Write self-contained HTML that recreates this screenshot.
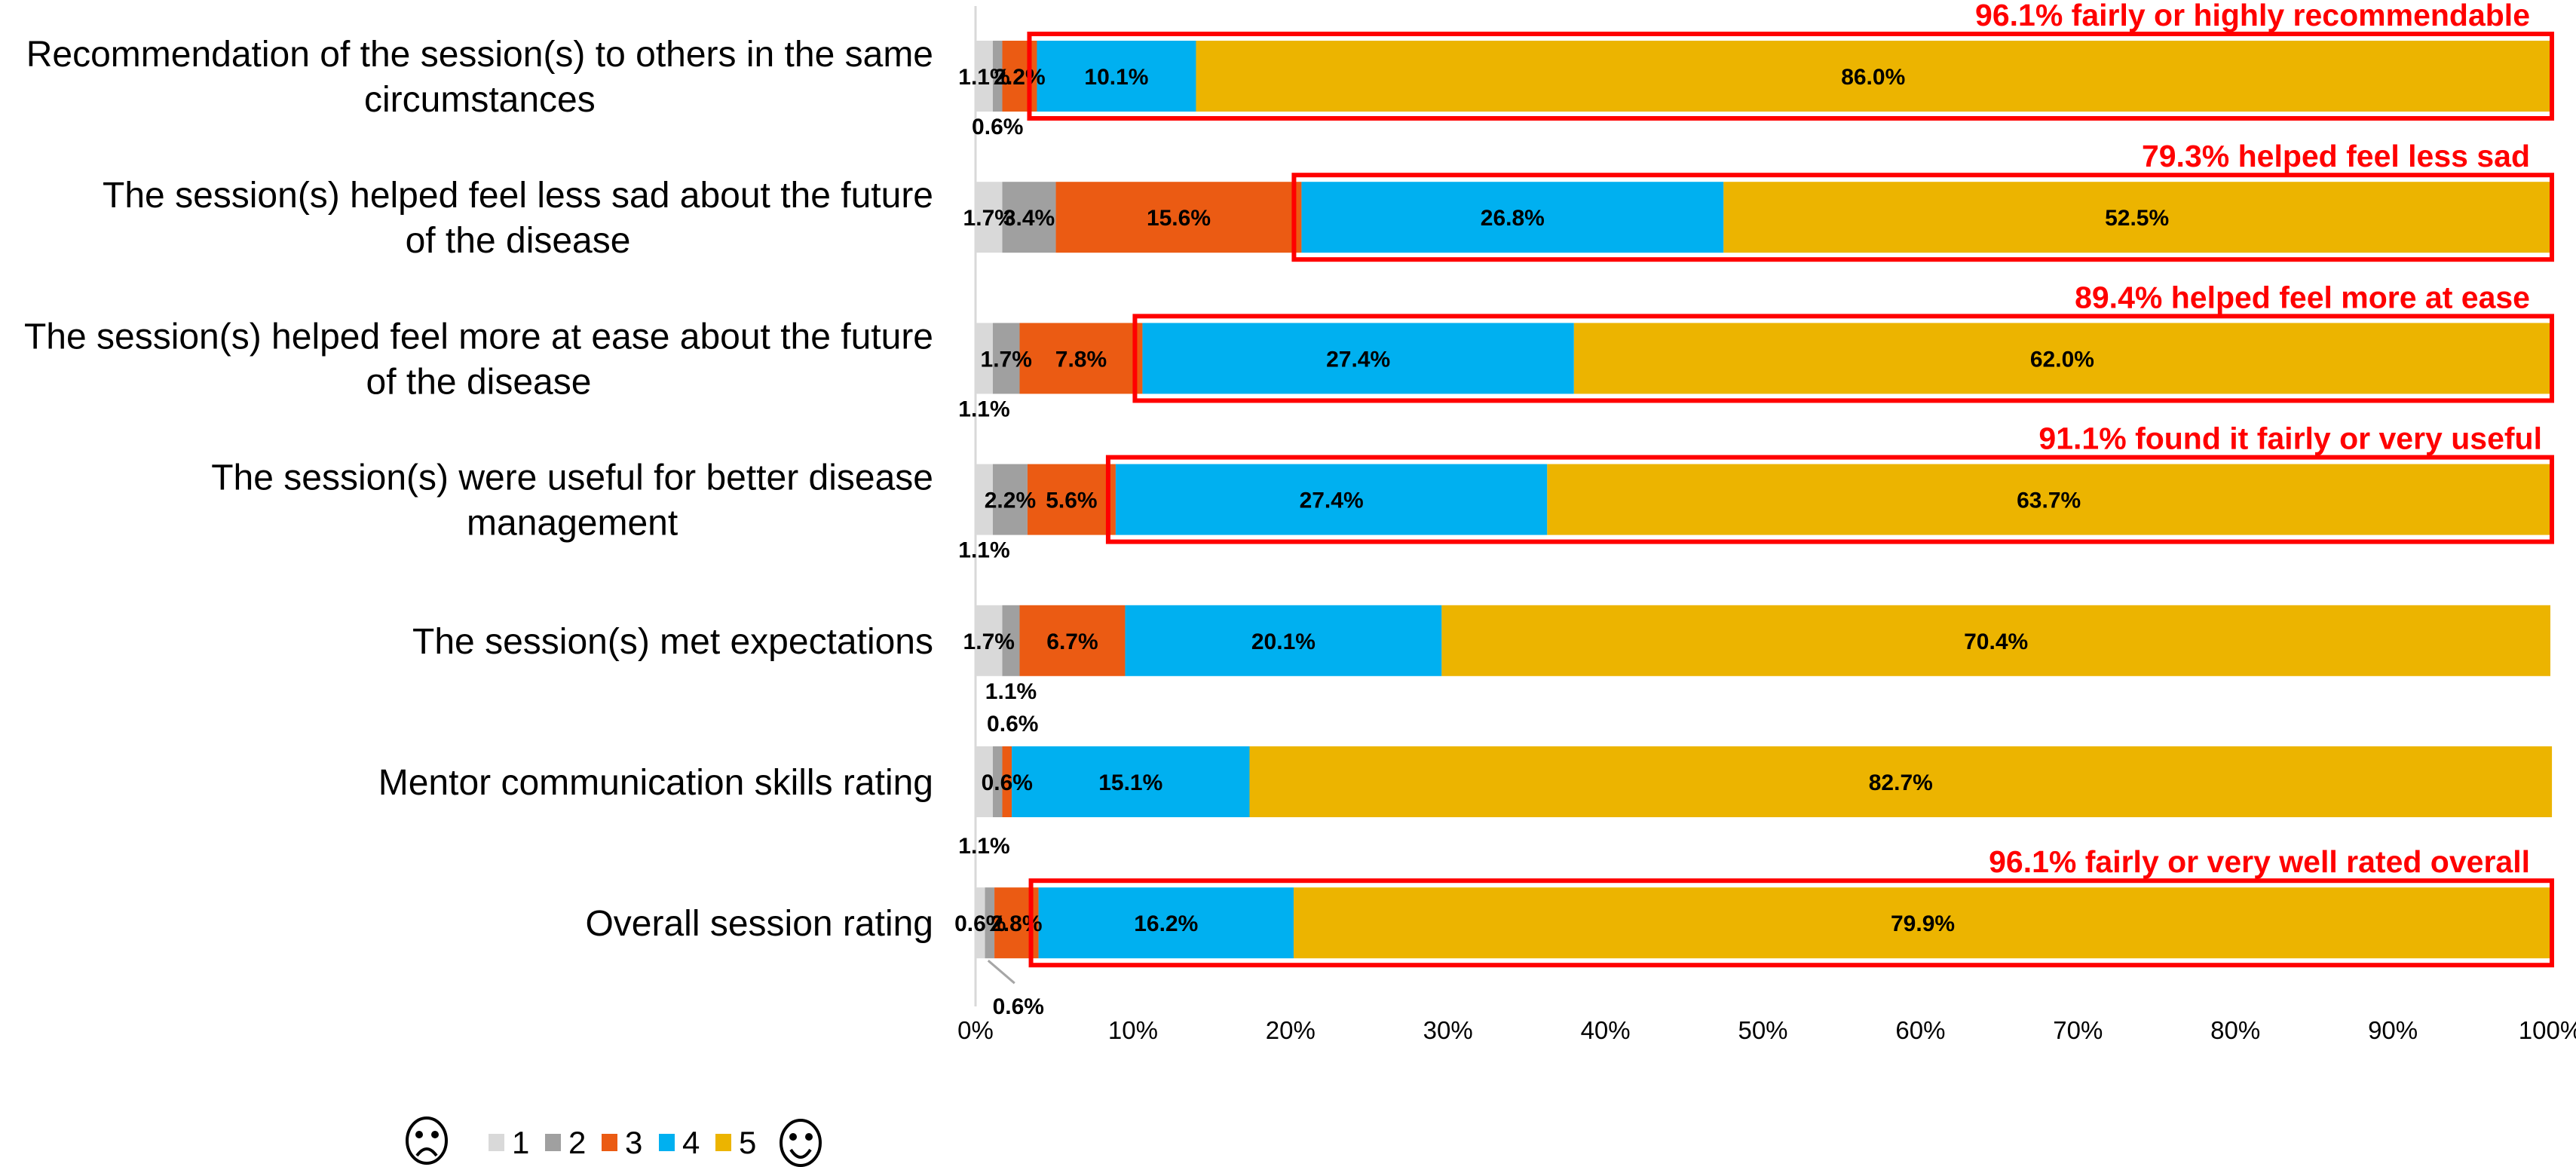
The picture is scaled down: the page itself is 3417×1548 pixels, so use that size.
<!DOCTYPE html>
<html><head><meta charset="utf-8"><style>
html,body{margin:0;padding:0;background:#fff;}
svg{display:block;font-family:"Liberation Sans",sans-serif;}
</style></head><body>
<svg id="chart" width="3417" height="1548" viewBox="0 0 3417 1548">
<g id="ylabels"></g>
<line x1="1294" y1="8" x2="1294" y2="1335" stroke="#d9d9d9" stroke-width="3"/>
<g id="bars"></g>
<g id="vlabels"></g>
<g id="boxes"></g>
<g id="xticks"></g>
<g id="legend">
  <g fill="none" stroke="#000" stroke-width="4">
    <ellipse cx="566" cy="1513" rx="26" ry="30"/>
    <circle cx="556" cy="1505" r="3" fill="#000"/><circle cx="577" cy="1505" r="3" fill="#000"/>
    <path d="M553 1533 Q566 1515 579 1533"/>
  </g>
  <g fill="none" stroke="#000" stroke-width="4">
    <ellipse cx="1062" cy="1516" rx="26" ry="30"/>
    <circle cx="1052" cy="1508" r="3" fill="#000"/><circle cx="1073" cy="1508" r="3" fill="#000"/>
    <path d="M1049 1525 Q1062 1545 1075 1525"/>
  </g>
</g>
</svg>
<script>
const categories = [
  ["Recommendation of the session(s) to others in the same","circumstances"],
  ["The session(s) helped feel less sad about the future","of the disease"],
  ["The session(s) helped feel more at ease about the future","of the disease"],
  ["The session(s) were useful for better disease","management"],
  ["The session(s) met expectations"],
  ["Mentor communication skills rating"],
  ["Overall session rating"]
];
const score1 = [1.1, 1.7, 1.1, 1.1, 1.7, 1.1, 0.6];
const score2 = [0.6, 3.4, 1.7, 2.2, 1.1, 0.6, 0.6];
const score3 = [2.2, 15.6, 7.8, 5.6, 6.7, 0.6, 2.8];
const score4 = [10.1, 26.8, 27.4, 27.4, 20.1, 15.1, 16.2];
const score5 = [86.0, 52.5, 62.0, 63.7, 70.4, 82.7, 79.9];
const seriesNames = ["1","2","3","4","5"];
const xTicks = [0,10,20,30,40,50,60,70,80,90,100];
const annotations = [
  "96.1% fairly or highly recommendable",
  "79.3% helped feel less sad",
  "89.4% helped feel more at ease",
  "91.1% found it fairly or very useful",
  null, null,
  "96.1% fairly or very well rated overall"
];
const boxStartSeries = [3, 3, 3, 3, null, null, 3];
const colors = ["#d9d9d9","#a0a0a0","#eb5b13","#00b0f0","#ecb400"];
const placement = [
  ["in","below","in","in","in"],
  ["in","in","in","in","in"],
  ["below","in","in","in","in"],
  ["below","in","in","in","in"],
  ["in","below","in","in","in"],
  ["below","above","in","in","in"],
  ["in","leader","in","in","in"]
];
const series = [score1, score2, score3, score4, score5];
const NS = "http://www.w3.org/2000/svg";
const X0 = 1294, X1 = 3383;
const x = v => X0 + (X1 - X0) * v / 100;
const rowTop = i => 54 + i * 187.2;
const BH = 94;
function mk(tag, attrs, parent){const e=document.createElementNS(NS,tag);for(const k in attrs)e.setAttribute(k,attrs[k]);parent.appendChild(e);return e;}
const gBars=document.getElementById('bars'),gV=document.getElementById('vlabels'),gY=document.getElementById('ylabels'),gB=document.getElementById('boxes'),gX=document.getElementById('xticks'),gL=document.getElementById('legend');
categories.forEach((lines,i)=>{
  const top=rowTop(i), cy=top+BH/2;
  const n=lines.length;
  let firstW=0;
  lines.forEach((ln,j)=>{
    const t=mk('text',{x:1238,y:cy+(j-(n-1)/2)*60+17,'text-anchor':'end','font-size':'48',fill:'#000'},gY);
    
    
    t.textContent=ln;
    if(j===0){firstW=t.getComputedTextLength();}
    else{t.setAttribute('text-anchor','middle');t.setAttribute('x',1238-firstW/2);}
  });
  let acc=0;
  series.forEach((s,k)=>{
    const v=s[i];
    const r=mk('rect',{x:x(acc),y:top,width:x(acc+v)-x(acc),height:BH,fill:colors[k]},gBars);
    
    
    const cx=x(acc+v/2);
    const p=placement[i][k];
    let lx=cx, ly=cy+11;
    if(p==='below'){ly=top+BH+(i===5?48:30);}
    else if(p==='above'){ly=top-20; lx=cx+20;}
    else if(p==='leader'){
      lx=cx+38; ly=top+BH+74;
      const l=mk('line',{x1:cx-2,y1:top+BH+3,x2:cx+33,y2:top+BH+33,stroke:'#a6a6a6','stroke-width':3},gV);
      
      
    }
    const t=mk('text',{x:lx,y:ly,'text-anchor':'middle','font-size':'30','font-weight':'bold',fill:'#000'},gV);
    
    
    t.textContent=v.toFixed(1)+'%';
    acc+=v;
  });
  if(boxStartSeries[i]!==null){
    let st=0; for(let k=0;k<boxStartSeries[i];k++) st+=series[k][i];
    const bx=x(st)-10;
    const b=mk('rect',{x:bx,y:top-9,width:X1+2-bx,height:BH+18,fill:'none',stroke:'#ff0000','stroke-width':6},gB);
    
    
    const a=mk('text',{x:i===3?3372:3356,y:top-20,'text-anchor':'end','font-size':'41','font-weight':'bold',fill:'#ff0000'},gB);
    
    
    a.textContent=annotations[i];
  }
});
xTicks.forEach(v=>{
  const t=mk('text',{x:x(v),y:1378,'text-anchor':'middle','font-size':'33',fill:'#000'},gX);
  
  
  t.textContent=v+'%';
});
const legX=[648,723,798,874,949];
seriesNames.forEach((nm,k)=>{
  const r=mk('rect',{x:legX[k],y:1504,width:21,height:23,fill:colors[k]},gL);
  
  
  const t=mk('text',{x:legX[k]+31,y:1530,'font-size':'42',fill:'#000'},gL);
  
  
  t.textContent=nm;
});
</script>
</body></html>
